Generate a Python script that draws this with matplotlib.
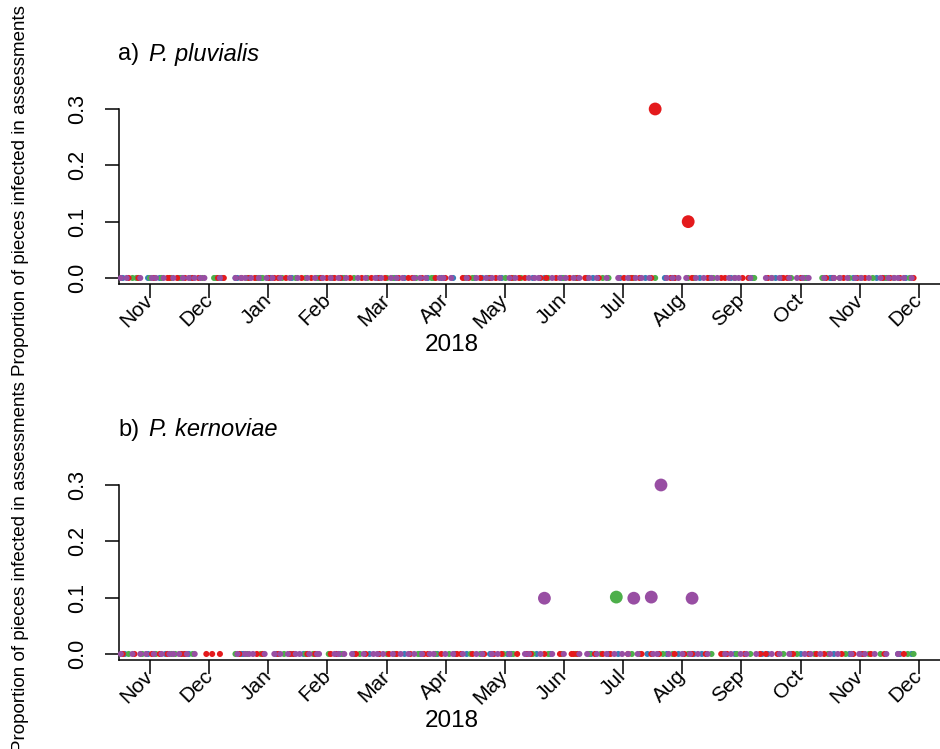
import matplotlib
matplotlib.use("Agg")
import matplotlib.pyplot as plt

plt.rcParams["font.family"] = ["Liberation Sans", "DejaVu Sans"]

# Month tick labels (Nov 2017 .. Dec 2018)
MONTHS = ["Nov", "Dec", "Jan", "Feb", "Mar", "Apr", "May", "Jun",
          "Jul", "Aug", "Sep", "Oct", "Nov", "Dec"]
YTICKS = [0.0, 0.1, 0.2, 0.3]
YTICK_LABELS = ["0.0", "0.1", "0.2", "0.3"]

COL_RED = "#E41A1C"
COL_BLUE = "#377EB8"
COL_GREEN = "#4DAF4A"
COL_PURPLE = "#984EA3"

# ---- a) P. pluvialis : assessments with no infection (days since 1 Nov 2017)
pluv_zero_red = [-6, 2, 9, 14, 18, 25, 35, 47, 54, 61, 66, 70, 78, 83, 91, 95, 103,
                 109, 114, 121, 128, 133, 140, 147, 152, 164, 170, 178, 186, 193, 201,
                 209, 216, 224, 231, 244, 252, 258, 268, 279, 287, 296, 305, 318, 326,
                 335, 348, 357, 368, 377, 386, 393,
                 -11, 10, 22, 38, 51, 64, 88, 98, 118, 135, 161, 175, 190, 204, 220,
                 248, 270, 294, 308, 328, 352, 364, 381]
pluv_zero_blue = [-14, 5, 21, 37, 45, 57, 73, 87, 99, 117, 131, 143, 156, 167, 181,
                  197, 212, 228, 242, 255, 270, 283, 299, 310, 322, 338, 351, 362, 374, 389,
                  -1, 15, 44, 62, 94, 126, 150, 171, 203, 225, 265, 288, 325, 350, 378]
pluv_zero_green = [-9, 0, 11, 16, 27, 34, 50, 58, 68, 75, 86, 93, 105, 112, 125, 137,
                   145, 162, 174, 183, 191, 205, 219, 233, 247, 260, 277, 290, 301, 320,
                   330, 346, 355, 366, 372, 383, 391,
                   -7, 6, 33, 55, 80, 100, 122, 146, 166, 187, 213, 236, 249, 280, 311,
                   337, 360, 379]
pluv_zero_purple = [-15, -12, -5, 3, 7, 12, 20, 23, 28, 36, 44, 49, 52, 56, 63, 72, 76,
                    81, 89, 97, 101, 107, 111, 119, 124, 130, 136, 139, 149, 155, 163,
                    168, 173, 180, 188, 195, 200, 207, 214, 221, 226, 235, 241, 246, 250,
                    257, 266, 272, 276, 281, 285, 292, 298, 303, 309, 317, 324, 333, 339,
                    347, 352, 359, 363, 370, 380, 385, 388,
                    1, 17, 26, 47, 60, 67, 85, 93, 116, 127, 142, 151, 176, 185, 198,
                    211, 218, 230, 253, 269, 289, 301, 320, 329, 336, 355, 366, 376,
                    383, 392]
# infected assessments
pluv_pos_day = [260, 277]
pluv_pos_val = [0.30, 0.10]
pluv_pos_col = [COL_RED, COL_RED]

# ---- b) P. kernoviae
kern_zero_red = [-8, 1, 5, 18, 29, 32, 36, 46, 55, 66, 74, 81, 93, 106, 111, 118, 127,
                 134, 141, 150, 158, 166, 172, 181, 189, 196, 203, 211, 217, 220, 229,
                 237, 246, 253, 262, 270, 279, 286, 297, 306, 314, 323, 331, 339, 347,
                 356, 362, 371, 388,
                 -14, 9, 16, 58, 72, 85, 96, 123, 143, 160, 177, 194, 218, 233, 258,
                 275, 294, 317, 343, 367, 378]
kern_zero_blue = [-13, 8, 20, 48, 65, 79, 98, 113, 131, 148, 163, 184, 199, 227, 241,
                  256, 272, 284, 301, 318, 335, 352, 366, 386, 392,
                  -1, 17, 47, 73, 105, 139, 157, 175, 186, 206, 236, 266, 280, 315,
                  330, 360, 385]
kern_zero_green = [-11, 3, 13, 22, 44, 57, 69, 84, 92, 108, 122, 138, 154, 170, 187,
                   205, 212, 219, 232, 248, 264, 277, 289, 295, 309, 326, 342, 358, 376, 390,
                   -4, 11, 50, 80, 99, 126, 147, 165, 182, 197, 226, 252, 269, 302, 333,
                   349, 370, 393]
kern_zero_purple = [-15, -5, -2, 6, 10, 15, 23, 51, 53, 59, 64, 71, 77, 86, 95, 100, 104,
                    115, 120, 125, 129, 136, 144, 146, 152, 161, 168, 176, 179, 193, 207,
                    213, 225, 235, 239, 243, 251, 259, 267, 274, 282, 299, 304, 312, 320,
                    329, 337, 345, 350, 361, 368, 373, 379,
                    -9, 2, 12, 19, 45, 49, 67, 75, 82, 87, 97, 110, 117, 133, 140, 156,
                    171, 185, 195, 201, 221, 230, 246, 261, 278, 287, 296, 307, 324, 340,
                    354, 365, 385]
kern_pos_day = [203, 240, 249, 258, 263, 279]
kern_pos_val = [0.099, 0.101, 0.099, 0.101, 0.30, 0.099]
kern_pos_col = [COL_PURPLE, COL_GREEN, COL_PURPLE, COL_PURPLE, COL_PURPLE, COL_PURPLE]

DAYS_PER_MONTH = 30.44
TICK_DAYS = [i * DAYS_PER_MONTH for i in range(len(MONTHS))]

fig = plt.figure(figsize=(9.4, 7.49), dpi=100)

W, H = 940.0, 749.0
ax_left = 119 / W
ax_width = 1.0 - ax_left
ax_h = 182 / H
YLIM = (-0.0107, 0.3124)
XLIM = (-15.95, 406.6)


def draw_panel(ax_bottom_px, letter, species, zeros, pos_day, pos_val, pos_col):
    ax = fig.add_axes([ax_left, 1 - ax_bottom_px / H, ax_width, ax_h])
    ax.set_xlim(*XLIM)
    ax.set_ylim(*YLIM)
    for days, col in zeros:
        ax.scatter(days, [0.0] * len(days), s=19, color=col, edgecolors="none",
                   zorder=3, clip_on=False)
    ax.scatter(pos_day, pos_val, s=85, c=pos_col, edgecolors="none", zorder=4,
               clip_on=False)

    for side in ("top", "right"):
        ax.spines[side].set_visible(False)
    ax.spines["left"].set_bounds(YLIM[0], 0.3)
    for side in ("left", "bottom"):
        ax.spines[side].set_linewidth(1.1)
        ax.spines[side].set_color("black")

    ax.set_yticks(YTICKS)
    ax.set_yticklabels(YTICK_LABELS, rotation=90, va="center", fontsize=15.5)
    ax.set_xticks(TICK_DAYS)
    ax.set_xticklabels([])
    ax.tick_params(axis="both", length=10, width=1.1, color="black")
    ax.tick_params(axis="y", pad=12)

    for d, lab in zip(TICK_DAYS, MONTHS):
        ax.annotate(lab, xy=(d, 0), xycoords=("data", "axes fraction"),
                    xytext=(0, -9.5), textcoords="offset points",
                    ha="right", va="center", rotation=45, rotation_mode="anchor",
                    fontsize=15)

    top_px = ax_bottom_px - 182
    fig.text(118 / W, 1 - (top_px - 48) / H, letter + ")", fontsize=17,
             ha="left", va="center")
    fig.text(149 / W, 1 - (top_px - 48) / H, species, fontsize=17,
             style="italic", ha="left", va="center")
    fig.text(452 / W, 1 - (ax_bottom_px + 61) / H, "2018", fontsize=17.5,
             ha="center", va="center")
    fig.text(21 / W, 1 - (ax_bottom_px - 93) / H,
             "Proportion of pieces infected in assessments", fontsize=13.5,
             rotation=90, ha="center", va="center")
    return ax


draw_panel(284, "a", "P. pluvialis",
           [(pluv_zero_blue, COL_BLUE), (pluv_zero_green, COL_GREEN),
            (pluv_zero_red, COL_RED), (pluv_zero_purple, COL_PURPLE)],
           pluv_pos_day, pluv_pos_val, pluv_pos_col)
draw_panel(660, "b", "P. kernoviae",
           [(kern_zero_blue, COL_BLUE), (kern_zero_green, COL_GREEN),
            (kern_zero_red, COL_RED), (kern_zero_purple, COL_PURPLE)],
           kern_pos_day, kern_pos_val, kern_pos_col)

fig.savefig("out.png", dpi=100, facecolor="white")
